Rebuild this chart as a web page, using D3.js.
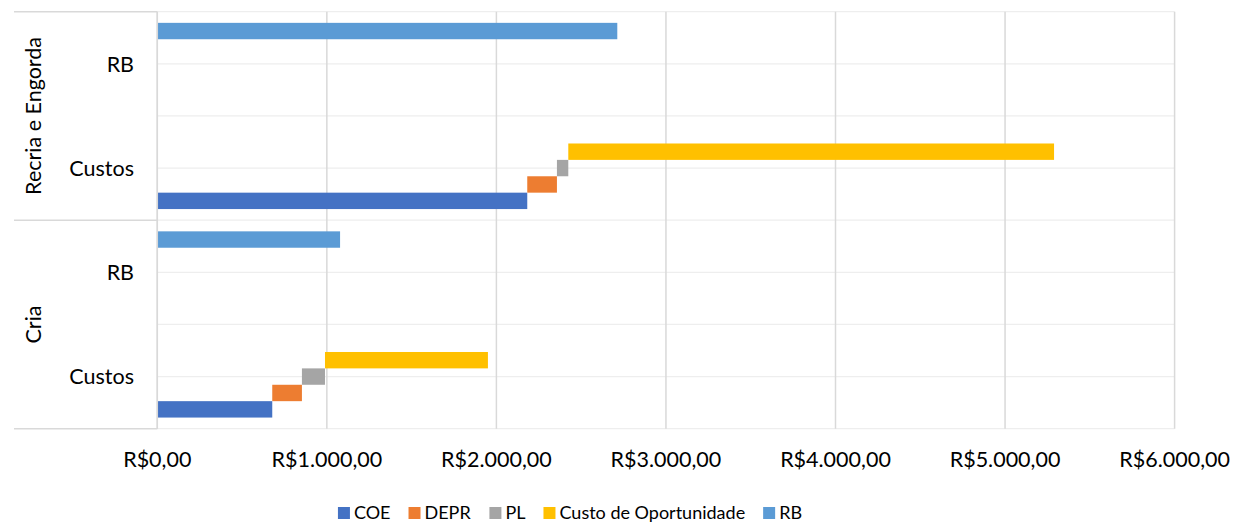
<!DOCTYPE html>
<html>
<head>
<meta charset="utf-8">
<script src="https://cdn.jsdelivr.net/npm/d3@7"></script>
<style>
  body { margin: 0; background: #fff; }
  text { font-family: Lato, "Open Sans", sans-serif; fill: #000; }
</style>
</head>
<body>
<script>
// data (rows from bottom to top, as Excel draws them)
const rowGroup = ["Cria", "Cria", "Recria e Engorda", "Recria e Engorda"]
const rowCategory = ["Custos", "RB", "Custos", "RB"]
const seriesNames = ["COE", "DEPR", "PL", "Custo de Oportunidade", "RB"]
const coe = [678, 0, 2182, 0]
const depr = [175, 0, 175, 0]
const pl = [136, 0, 67, 0]
const custoOport = [961, 0, 2865, 0]
const rb = [0, 1078, 0, 2713]
const xTicks = [0, 1000, 2000, 3000, 4000, 5000, 6000]
const colors = ["#4472C4", "#ED7D31", "#A5A5A5", "#FFC000", "#5B9BD5"]

const width = 1234, height = 523
const plot = {left: 157.3, right: 1174.6, top: 11.7, bottom: 428.7}

const rows = rowGroup.map((g, i) => ({
    key: g + "|" + rowCategory[i],
    group: g,
    category: rowCategory[i],
    "COE": coe[i],
    "DEPR": depr[i],
    "PL": pl[i],
    "Custo de Oportunidade": custoOport[i],
    "RB": rb[i]
}))

const svg = d3.select('body').append('svg')
    .attr('width', width)
    .attr('height', height)

const ptBR = d3.formatLocale({decimal: ",", thousands: ".", grouping: [3], currency: ["R$", ""]})
const fmt = ptBR.format("$,.2f")

const xScale = d3.scaleLinear()
    .domain([0, 6000])
    .range([plot.left, plot.right])

// rows top to bottom
const yScale = d3.scaleBand()
    .domain(rows.map(d => d.key).reverse())
    .range([plot.top, plot.bottom])

// series slots inside a row, last series at the top
const slot = d3.scaleBand()
    .domain(seriesNames.slice().reverse())
    .range([0, yScale.bandwidth()])
    .paddingOuter(0.68)

// horizontal gridlines at row edges and row centres
const hLines = []
yScale.domain().forEach(k => { hLines.push(yScale(k)); hLines.push(yScale(k) + yScale.bandwidth() / 2) })
hLines.push(plot.bottom)
svg.append('g').selectAll('line').data(hLines).enter().append('line')
    .attr('x1', plot.left).attr('x2', plot.right)
    .attr('y1', d => d).attr('y2', d => d)
    .attr('stroke', '#EEEEEE').attr('stroke-width', 1.3)

// vertical gridlines
svg.append('g').selectAll('line').data(xTicks).enter().append('line')
    .attr('x1', d => xScale(d)).attr('x2', d => xScale(d))
    .attr('y1', plot.top).attr('y2', plot.bottom)
    .attr('stroke', '#D9D9D9').attr('stroke-width', 1.5)

// waterfall: each series starts where the previous one ends
const stacked = d3.stack().keys(seriesNames)(rows)

svg.append('g').selectAll('g').data(stacked).enter().append('g')
    .attr('fill', (d, i) => colors[i])
    .selectAll('rect').data(s => s.map(p => ({key: s.key, p: p})))
    .enter().append('rect')
        .attr('x', d => xScale(d.p[0]))
        .attr('width', d => Math.max(0, xScale(d.p[1]) - xScale(d.p[0])))
        .attr('y', d => yScale(d.p.data.key) + slot(d.key))
        .attr('height', slot.bandwidth())

// x axis labels
svg.append('g').selectAll('text').data(xTicks).enter().append('text')
    .attr('x', d => xScale(d))
    .attr('y', 466.5)
    .attr('text-anchor', 'middle')
    .style('font-size', '21.5px')
    .text(d => fmt(d))

// category axis: left lines
const axisColor = '#D9D9D9'
svg.append('line')
    .attr('x1', plot.left).attr('x2', plot.left)
    .attr('y1', plot.top).attr('y2', plot.bottom)
    .attr('stroke', axisColor).attr('stroke-width', 1.5)

const groupNames = ["Recria e Engorda", "Cria"]
const groupEdges = [plot.top]
groupNames.forEach(g => {
    const keys = rows.filter(r => r.group == g).map(r => r.key)
    groupEdges.push(d3.max(keys, k => yScale(k) + yScale.bandwidth()))
})
svg.append('g').selectAll('line').data(groupEdges).enter().append('line')
    .attr('x1', 14).attr('x2', plot.left)
    .attr('y1', d => d).attr('y2', d => d)
    .attr('stroke', axisColor).attr('stroke-width', 1.5)

// category labels
svg.append('g').selectAll('text').data(rows).enter().append('text')
    .attr('x', 134)
    .attr('y', d => yScale(d.key) + yScale.bandwidth() / 2)
    .attr('dy', '0.36em')
    .attr('text-anchor', 'end')
    .style('font-size', '21.5px')
    .text(d => d.category)

// group labels (rotated)
svg.append('g').selectAll('text').data(groupNames).enter().append('text')
    .attr('transform', (g, i) => "translate(" + 33 + "," + ((groupEdges[i] + groupEdges[i + 1]) / 2) + ")rotate(-90)")
    .attr('dy', '0.36em')
    .attr('text-anchor', 'middle')
    .style('font-size', '21.5px')
    .text(g => g)

// legend
const legend = svg.append('g')
const items = legend.selectAll('g').data(seriesNames).enter().append('g')
items.append('rect')
    .attr('width', 12).attr('height', 12)
    .attr('y', 507)
    .attr('fill', (d, i) => colors[i])
items.append('text')
    .attr('x', 16)
    .attr('y', 513)
    .attr('dy', '0.36em')
    .style('font-size', '18px')
    .text(d => d)

// lay out legend items side by side, centred
const gap = 18
let pos = 0
const xs = []
items.each(function() {
    xs.push(pos)
    pos += this.getBBox().width + gap
})
const total = pos - gap
const start = 570 - total / 2
items.attr('transform', (d, i) => "translate(" + (start + xs[i]) + ",0)")
</script>
</body>
</html>
